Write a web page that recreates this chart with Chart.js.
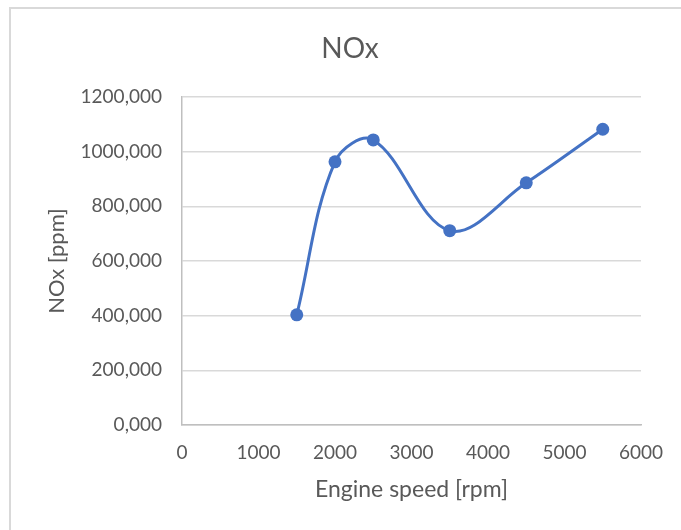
<!DOCTYPE html>
<html>
<head>
<meta charset="utf-8">
<script src="https://cdn.jsdelivr.net/npm/chart.js@4"></script>
<style>
  html, body { margin: 0; padding: 0; background: #fff; overflow: hidden; }
  #frame { position: absolute; left: 9px; top: 7px; width: 800px; height: 800px; border: 2px solid #d9d9d9; }
  #wrap { position: absolute; left: 0; top: 0; width: 681px; height: 530px; }
</style>
</head>
<body>
<div id="frame"></div>
<div id="wrap"><canvas id="chart"></canvas></div>
<script>
// Engine speed [rpm] vs NOx [ppm]
const engineSpeed = [1500, 2000, 2500, 3500, 4500, 5500];
const noxValues = [403, 963, 1043, 711, 886, 1082];

const xTickLabels = ['0', '1000', '2000', '3000', '4000', '5000', '6000'];
const yTickLabels = ['0,000', '200,000', '400,000', '600,000', '800,000', '1000,000', '1200,000'];

const textColor = '#595959';
const blue = '#4472C4';

const ctx = document.getElementById('chart');

const chart = new Chart(ctx, {
  type: 'scatter',
  data: {
    datasets: [
      {
        data: engineSpeed.map((x, i) => ({ x, y: noxValues[i] })),
        showLine: true,
        borderColor: blue,
        borderWidth: 3,
        tension: 0.36,
        pointRadius: 6.5,
        pointBackgroundColor: blue,
        pointBorderWidth: 0,
        clip: 20,
      },
    ],
  },
  options: {
    responsive: true,
    maintainAspectRatio: false,
    animation: false,
    layout: {
      padding: { left: 59, right: 40, top: 0, bottom: 0 },
    },
    scales: {
      x: {
        type: 'linear',
        min: 0,
        max: 6000,
        afterFit: (scale) => { scale.height = 105; },
        ticks: {
          stepSize: 1000,
          padding: 16,
          color: textColor,
          font: { family: 'Lato', size: 19 },
          callback: (value, index) => xTickLabels[index],
        },
        grid: { display: false, drawTicks: false },
        border: { display: true, color: '#bfbfbf', width: 1.5 },
        title: {
          display: true,
          text: 'Engine speed [rpm]',
          color: textColor,
          font: { family: 'Lato', size: 23 },
          padding: { top: 0, bottom: 27 },
        },
      },
      y: {
        min: 0,
        max: 1200,
        afterFit: (scale) => { scale.width = 123; },
        ticks: {
          stepSize: 200,
          padding: 20,
          color: textColor,
          font: { family: 'Lato', size: 19 },
          callback: (value, index) => yTickLabels[index],
        },
        grid: { color: '#d9d9d9', lineWidth: 1.5, drawTicks: false },
        border: { display: true, color: '#bfbfbf', width: 1.5 },
        title: {
          display: true,
          text: 'NOx [ppm]',
          color: textColor,
          font: { family: 'Lato', size: 22 },
          padding: { top: -15.5, bottom: 0 },
        },
      },
    },
    plugins: {
      legend: { display: false },
      tooltip: { enabled: false },
      title: {
        display: true,
        text: 'NOx',
        color: textColor,
        font: { family: 'Lato', size: 28, weight: 'normal' },
        padding: { top: 32, bottom: 31.4 },
      },
    },
  },
});
</script>
</body>
</html>
